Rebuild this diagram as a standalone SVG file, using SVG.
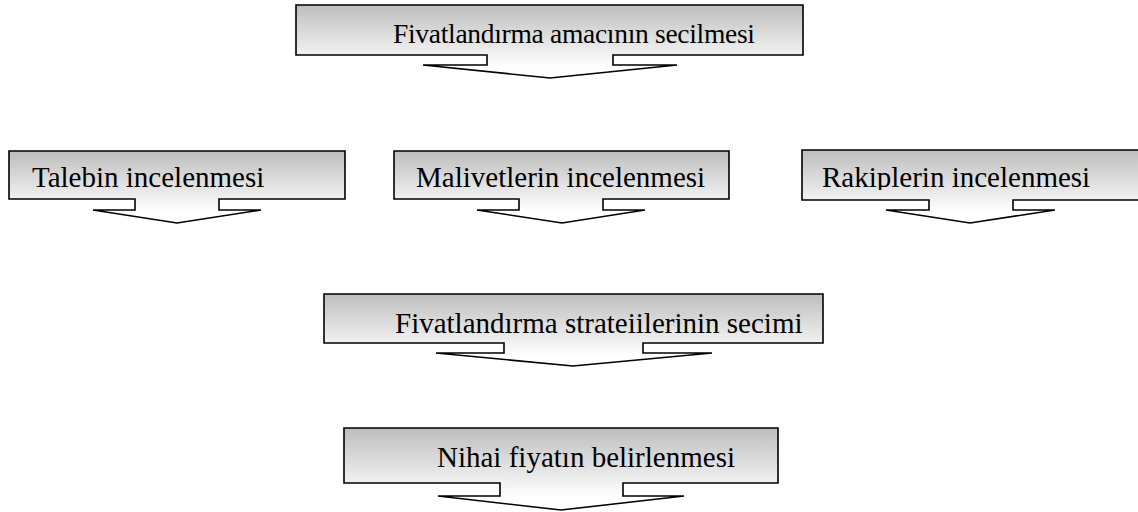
<svg xmlns="http://www.w3.org/2000/svg" width="1138" height="512" viewBox="0 0 1138 512">
<style>
.shape{stroke:#000;stroke-width:1.6;stroke-linejoin:miter;fill:url(#g)}
.lbl{font-family:"Liberation Serif","Times New Roman",serif;font-size:29px;fill:#000}
</style>
<defs>
<linearGradient id="g" x1="0" y1="0" x2="0" y2="1">
<stop offset="0" stop-color="#bdbdbd"/>
<stop offset="0.85" stop-color="#ffffff"/>
<stop offset="1" stop-color="#ffffff"/>
</linearGradient>
<clipPath id="c1"><rect x="296" y="5" width="507" height="41"/></clipPath>
<clipPath id="c3"><rect x="394" y="151" width="335" height="39"/></clipPath>
<clipPath id="c4"><rect x="802" y="150" width="336" height="40"/></clipPath>
<clipPath id="c5"><rect x="324" y="294" width="499" height="42"/></clipPath>
</defs>
<rect width="1138" height="512" fill="#fff"/>
<g id="connectors"></g>
<g id="n1">
<path class="shape" d="M296,5 H803 V55 H613 V65 H677 L550,78 L423,65 H487 V55 H296 Z"/>
<text class="lbl" x="393" y="43" style="font-size:27.5px" textLength="362" lengthAdjust="spacing" clip-path="url(#c1)">Fivatlandırma amacının secilmesi</text>
</g>
<g id="n2">
<path class="shape" d="M9,151 H345 V199 H219 V210 H261 L177,223 L93,210 H135 V199 H9 Z"/>
<text class="lbl" x="32" y="187">Talebin incelenmesi</text>
</g>
<g id="n3">
<path class="shape" d="M394,151 H729 V199 H603 V210 H645 L562,223 L477,210 H519 V199 H394 Z"/>
<text class="lbl" x="416" y="187" clip-path="url(#c3)">Malivetlerin incelenmesi</text>
</g>
<g id="n4">
<path class="shape" d="M802,150 H1141 V200 H1013 V210 H1055 L970,223 L886,210 H929 V200 H802 Z"/>
<text class="lbl" x="822" y="187" clip-path="url(#c4)">Rakiplerin incelenmesi</text>
</g>
<g id="n5">
<path class="shape" d="M324,294 H823 V343 H643 V353 H712 L573,366 L436,353 H504 V343 H324 Z"/>
<text class="lbl" x="395" y="333" clip-path="url(#c5)">Fivatlandırma strateiilerinin secimi</text>
</g>
<g id="n6">
<path class="shape" d="M344,428 H778 V483 H623 V496 H684 L561,510 L438,496 H500 V483 H344 Z"/>
<text class="lbl" x="437" y="467">Nihai fiyatın belirlenmesi</text>
</g>
</svg>
